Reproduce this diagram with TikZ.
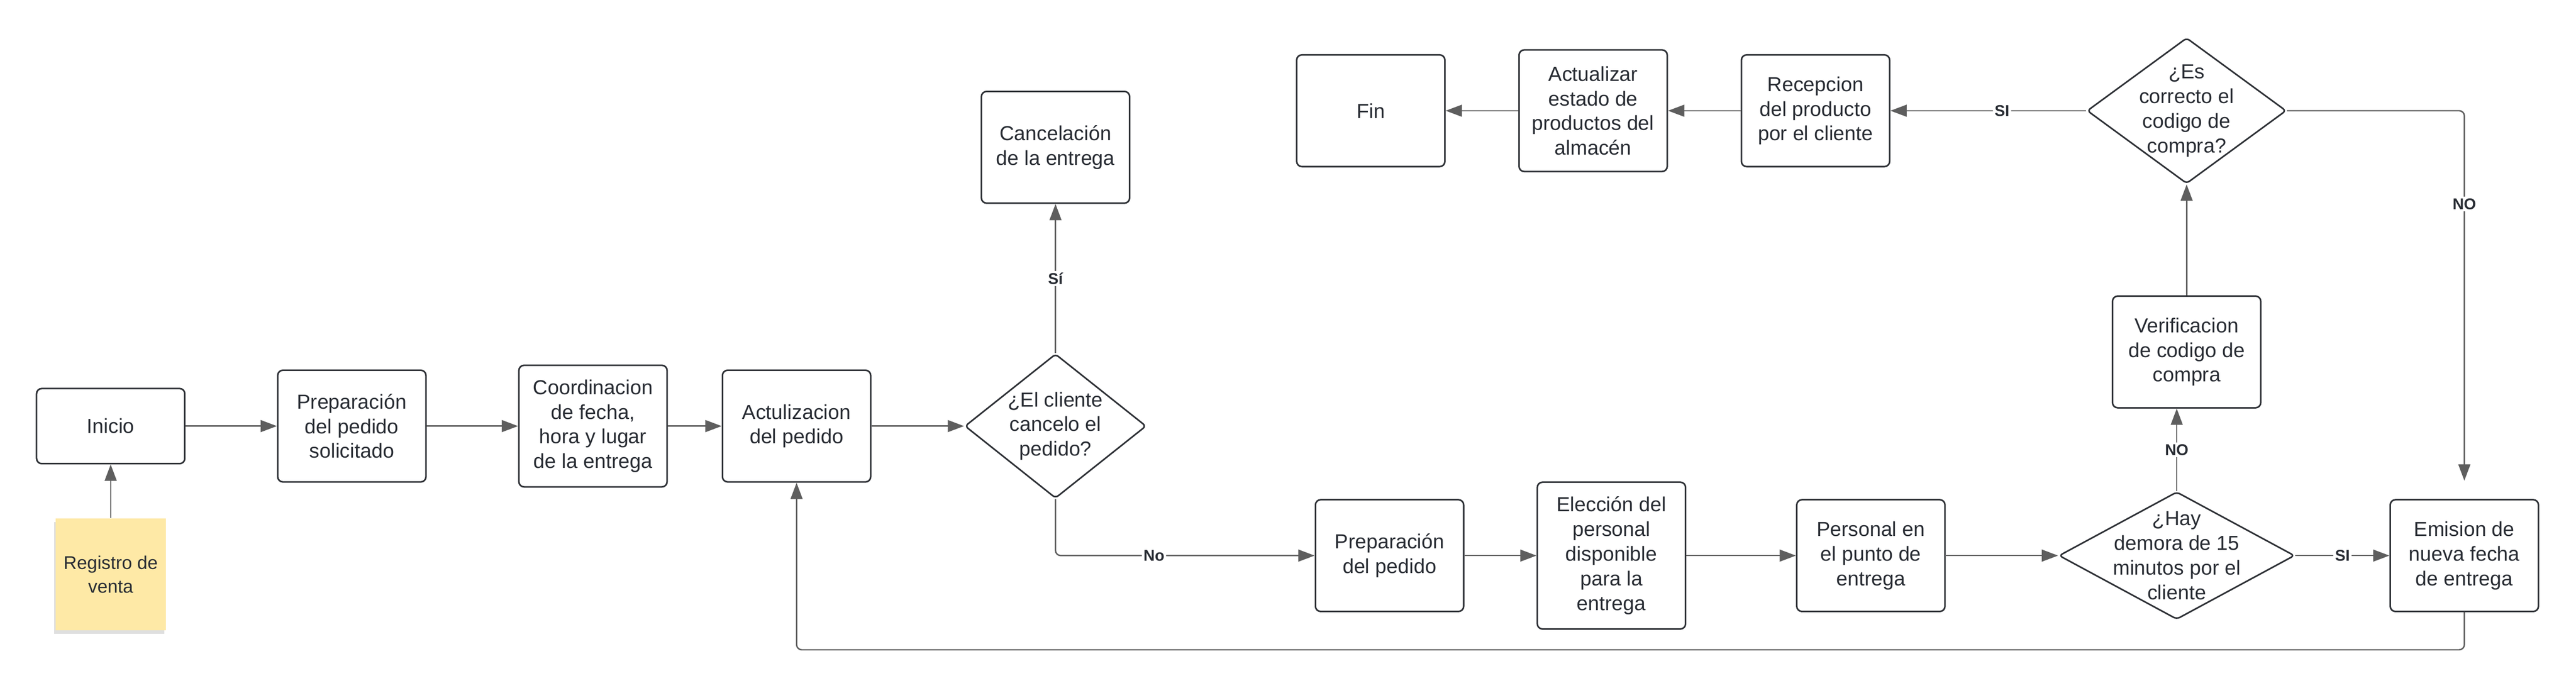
\documentclass[tikz,border=0pt]{standalone}
\usepackage{fontspec}
\setmainfont{Liberation Sans}
\usetikzlibrary{arrows.meta}
\usetikzlibrary{shapes.geometric}
\usetikzlibrary{shadows}

\definecolor{edgegray}{HTML}{5E5E5E}
\definecolor{boxline}{HTML}{2E3136}
\definecolor{inkdark}{HTML}{282C33}
\definecolor{noteyellow}{HTML}{FEE9A6}

\begin{document}
\begin{tikzpicture}[
    box/.style={draw=boxline, line width=0.9pt, rounded corners=3pt, fill=white, align=center,
      minimum width=3cm, minimum height=2.26cm, text=inkdark, font=\fontsize{11.7}{14.2}\selectfont},
    decision/.style={draw=boxline, line width=0.9pt, diamond, rounded corners=2pt, inner sep=0pt},
    dtext/.style={align=center, text=inkdark, font=\fontsize{11.7}{14.2}\selectfont},
    note/.style={fill=noteyellow, minimum width=2.23cm, minimum height=2.26cm, align=center,
      text=inkdark, font=\fontsize{10.6}{13.5}\selectfont,
      drop shadow={shadow xshift=-0.03cm, shadow yshift=-0.07cm, opacity=0.25}},
    flow/.style={->, draw=edgegray, line width=0.8pt, rounded corners=3pt},
    choice/.style={fill=white, inner sep=1pt, text=inkdark, font=\bfseries\fontsize{9}{10}\selectfont},
    >={Triangle[length=0.33cm, width=0.24cm]}
  ]
  \useasboundingbox (0,0) rectangle (52.13,-13.91);

  % first row
  \node[box, minimum height=1.52cm] (inicio) at (2.24,-8.62) {Inicio};
  \node[note, below of=inicio, yshift=-2cm] (registro) {Registro de\\venta};
  \node[box, right of=inicio, xshift=3.88cm] (prepsol) {Preparación\\del pedido\\solicitado};
  \node[box, minimum height=2.46cm, right of=prepsol, xshift=3.88cm] (coord) {Coordinacion\\de fecha,\\hora y lugar\\de la entrega};
  \node[box, right of=coord, xshift=3.12cm] (actual) {Actulizacion\\del pedido};
  \node[decision, minimum width=3.67cm, minimum height=2.92cm, right of=actual, xshift=4.24cm,
    label={[dtext]center:{¿El cliente\\cancelo el\\pedido?}}] (cliente) {};
  \node[box, above of=cliente, yshift=4.64cm] (cancel) {Cancelación\\de la entrega};

  % second row
  \node[box, right of=cliente, xshift=5.76cm, yshift=-2.62cm] (prep) {Preparación\\del pedido};
  \node[box, minimum height=2.97cm, right of=prep, xshift=3.49cm] (eleccion) {Elección del\\personal\\disponible\\para la\\entrega};
  \node[box, right of=eleccion, xshift=4.25cm] (personal) {Personal en\\el punto de\\entrega};
  \node[decision, minimum width=4.77cm, minimum height=2.58cm, right of=personal, xshift=5.19cm,
    label={[dtext]center:{¿Hay\\demora de 15\\minutos por el\\cliente}}] (demora) {};
  \node[box, right of=demora, xshift=4.82cm] (emision) {Emision de\\nueva fecha\\de entrega};

  % going up
  \node[box, above of=demora, xshift=0.2cm, yshift=3.12cm] (verif) {Verificacion\\de codigo de\\compra};
  \node[decision, minimum width=4.03cm, minimum height=2.95cm, above of=verif, yshift=3.88cm,
    label={[dtext]center:{¿Es\\correcto el\\codigo de\\compra?}}] (correcto) {};
  \node[box, left of=correcto, xshift=-6.51cm] (recep) {Recepcion\\del producto\\por el cliente};
  \node[box, minimum height=2.46cm, left of=recep, xshift=-3.5cm] (actualizar) {Actualizar\\estado de\\productos del\\almacén};
  \node[box, left of=actualizar, xshift=-3.5cm] (fin) {Fin};

  % arrows
  \draw[flow] (registro) -- (inicio);
  \draw[flow] (inicio) -- (prepsol);
  \draw[flow] (prepsol) -- (coord);
  \draw[flow] (coord) -- (actual);
  \draw[flow] (actual) -- (cliente);
  \draw[flow] (cliente) -- node[choice] {Sí} (cancel);
  \draw[flow] (cliente.south) |- node[choice, pos=0.69] {No} (prep.west);
  \draw[flow] (prep) -- (eleccion);
  \draw[flow] (eleccion) -- (personal);
  \draw[flow] (personal) -- (demora);
  \draw[flow] (demora) -- node[choice] {SI} (emision);
  \draw[flow] (demora.north) -- node[choice] {NO} (demora.north |- verif.south);
  \draw[flow] (verif) -- (correcto);
  \draw[flow] (correcto.west) -- node[choice, pos=0.43] {SI} (recep.east);
  \draw[flow] (recep) -- (actualizar);
  \draw[flow] (actualizar) -- (fin);
  \draw[flow, shorten >=0.37cm] (correcto.east) -| node[choice, pos=0.62] {NO} (emision.north);
  \draw[flow] (emision.south) -- ++(0,-0.76) -| (actual.south);
\end{tikzpicture}
\end{document}
